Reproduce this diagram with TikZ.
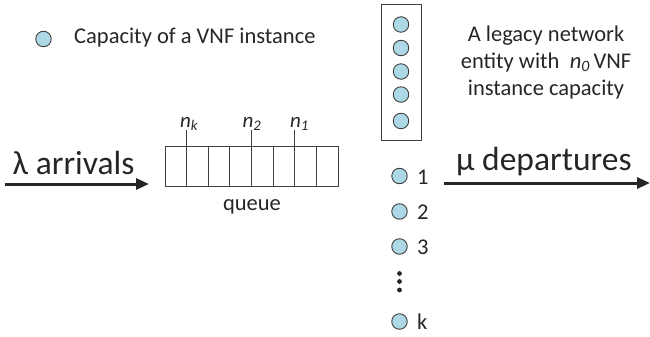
\documentclass[tikz,border=0pt]{standalone}
\usepackage{fontspec}
\setmainfont{Carlito}
\usetikzlibrary{arrows.meta,calc}
\definecolor{circfill}{RGB}{173,216,230}
\definecolor{circline}{RGB}{64,64,64}
\definecolor{txt}{RGB}{38,38,38}
\tikzset{
  vnf/.style={circle,draw=circline,fill=circfill,line width=0.9pt,minimum size=15.5pt,inner sep=0pt},
  small/.style={font=\fontsize{22.5}{26.7}\selectfont,text=txt,inner sep=0pt},
  big/.style={font=\fontsize{33.5}{40}\selectfont,text=txt,inner sep=0pt},
  flow/.style={line width=3pt,draw=txt,-{Triangle[length=13pt,width=11pt]}},
  qline/.style={line width=0.8pt,draw=circline},
  sublab/.style={anchor=base,font=\fontsize{21}{25}\selectfont\itshape,text=txt,inner sep=0pt},
}
\begin{document}
\begin{tikzpicture}[x=1pt,y=-1pt]
\useasboundingbox (0,0) rectangle (650,337);
% legend
\node[vnf] (legc) at (43.5,39) {};
\node[small,anchor=base west] (legt) at (74,43.5) {Capacity of a VNF instance};
% legacy entity box
\node[qline,draw,minimum width=40pt,minimum height=136pt,inner sep=0pt] (box) at (401,72) {};
\node[vnf] (b1) at (401,24.5) {};
\node[vnf] (b2) at (401,48) {};
\node[vnf] (b3) at (401,71.5) {};
\node[vnf] (b4) at (401,94.5) {};
\node[vnf] (b5) at (401,121) {};
\node[small,align=center,anchor=north] (legacy) at (546,26) {A legacy network\\entity with \ {\itshape n\textsubscript{0}}\,VNF\\instance capacity};
% queue
\node[qline,draw,minimum width=173pt,minimum height=40pt,inner sep=0pt,anchor=north west] (q) at (165,146) {};
\foreach \i in {1,...,7}{
  \draw[qline] ($(q.north west)+(\i*21.625,0)$) -- ($(q.south west)+(\i*21.625,0)$);
}
\coordinate (tk) at ($(q.north west)+(21.625,0)$);
\coordinate (t2) at ($(q.north west)+(4*21.625,0)$);
\coordinate (t1) at ($(q.north west)+(6*21.625,0)$);
\node[sublab] (nk) at (189,127.5) {n\textsubscript{k}};
\node[sublab] (n2) at (252,127.5) {n\textsubscript{2}};
\node[sublab] (n1) at (299.5,127.5) {n\textsubscript{1}};
\draw[qline] (tk) -- (tk |- 0,129.5);
\draw[qline] (t2) -- (t2 |- 0,129.5);
\draw[qline] (t1) -- (t1 |- 0,129.5);
\node[small,anchor=base] (qlab) at (252,210) {queue};
% arrivals
\coordinate (aS) at (5,184);
\coordinate (aE) at (149,184);
\draw[flow] (aS) -- (aE);
\node[big,anchor=base west] (arr) at (12.5,174) {λ arrivals};
% servers
\node[vnf] (s1) at (399.5,176) {};
\node[vnf] (s2) at (399.5,211.5) {};
\node[vnf] (s3) at (399.5,246.5) {};
\node[vnf] (sk) at (399.5,321.5) {};
\node[small,anchor=base west] (l1) at (417,184) {1};
\node[small,anchor=base west] (l2) at (417,219) {2};
\node[small,anchor=base west] (l3) at (417,254) {3};
\node[small,anchor=base west] (lk) at (417,329) {k};
\foreach \y in {273.5,281.5,290}{ \fill[txt] (399.5,\y) circle (2.4pt); }
% departures
\coordinate (dS) at (444,183);
\coordinate (dE) at (650,183);
\draw[flow] (dS) -- (dE);
\node[big,anchor=base west] (dep) at (456,170) {μ departures};
\end{tikzpicture}
\end{document}
